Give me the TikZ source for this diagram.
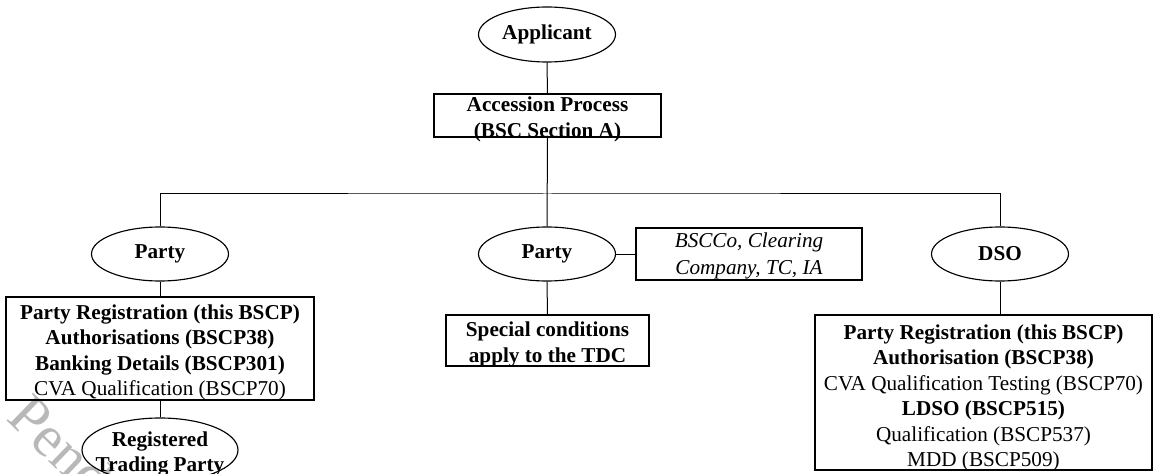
\documentclass[tikz,border=0pt]{standalone}
\usepackage{fontspec}
\setmainfont{Liberation Serif}
\usetikzlibrary{shapes.geometric}
\begin{document}
\begin{tikzpicture}[x=0.75pt,y=-0.75pt,
  every node/.style={font=\fontsize{15.9}{19.1}\selectfont, align=center, inner sep=0pt},
  oval/.style={draw, ellipse, line width=0.85pt},
  rbox/.style={draw, rectangle, line width=0.8pt},
  txt/.style={yshift=-3pt},
  bold/.style={font=\fontsize{15.9}{19.1}\selectfont\bfseries},
  link/.style={line width=0.75pt}]
\useasboundingbox (0,0) rectangle (1153,474);
% watermark
\node[text=black!28, rotate=-44, anchor=west, font=\fontsize{44}{50}\selectfont] (wm) at (19,405) {Pend};
% shapes
\node[oval, bold, minimum width=102.75pt, minimum height=41.25pt] (app) at (547,34.5) {Applicant};
\node[rbox, minimum width=170.25pt, minimum height=32.25pt] (acc) at (547.5,115.5) {};
\node[txt, bold] (acct) at (acc) {Accession Process\\(BSC Section A)};
\node[oval, bold, minimum width=102.75pt, minimum height=40.5pt] (lparty) at (160,254) {Party};
\node[oval, bold, minimum width=102.75pt, minimum height=40.5pt] (mparty) at (547,254) {Party};
\node[oval, bold, minimum width=102.75pt, minimum height=40.5pt] (dso) at (1000,254) {DSO};
\node[rbox, minimum width=169.5pt, minimum height=39pt] (bscco) at (749,254) {};
\node[yshift=-1.5pt, font=\fontsize{15.9}{20}\selectfont\itshape] (bsccot) at (bscco) {BSCCo, Clearing\\Company, TC, IA};
\node[rbox, minimum width=152.25pt, minimum height=38.25pt] (special) at (547.5,340.5) {};
\node[txt, bold] (specialt) at (special) {Special conditions\\apply to the TDC};
\node[rbox, minimum width=231pt, minimum height=77.25pt] (lbox) at (160,348.5) {};
\node[txt] (lboxt) at (lbox) {\textbf{Party Registration (this BSCP)}\\\textbf{Authorisations (BSCP38)}\\\textbf{Banking Details (BSCP301)}\\CVA Qualification (BSCP70)};
\node[rbox, minimum width=252.75pt, minimum height=116.25pt] (rbox) at (983.5,392.5) {};
\node[yshift=-4pt] (rboxt) at (rbox) {\textbf{Party Registration (this BSCP)}\\\textbf{Authorisation (BSCP38)}\\CVA Qualification Testing (BSCP70)\\\textbf{LDSO (BSCP515)}\\Qualification (BSCP537)\\MDD (BSCP509)};
\node[oval, minimum width=117pt, minimum height=48pt] (reg) at (160,450) {};
\node[txt, bold] (regt) at (reg) {Registered\\Trading Party};
% connectors
\coordinate (bus) at (547,194);
\draw[link] (app.south) -- (acc.north);
\draw[link] (acc.south) -- (mparty.north);
\draw[link] (lparty.north) |- (bus) -| (dso.north);
\draw[link] (mparty.east) -- (bscco.west);
\draw[link] (mparty.south) -- (special.north);
\draw[link] (lparty.south) -- (lbox.north);
\draw[link] (dso.south) -- (dso.south |- rbox.north);
\draw[link] (lbox.south -| reg.north) -- (reg.north);
\end{tikzpicture}
\end{document}
